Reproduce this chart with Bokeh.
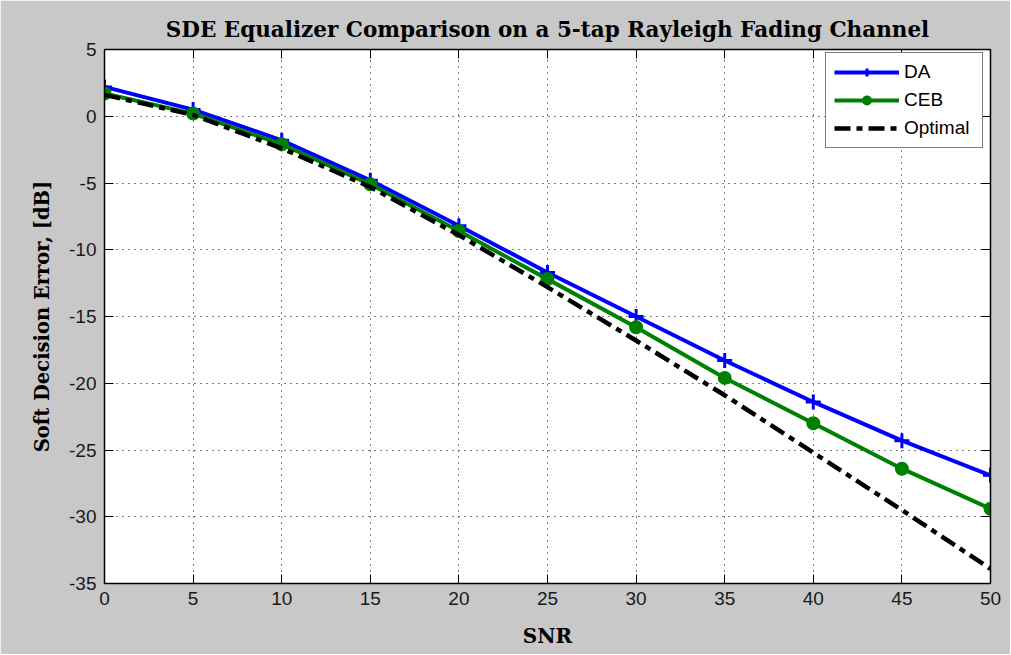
from bokeh.plotting import figure
from bokeh.models import LinearAxis, Range1d, Legend, LegendItem, FixedTicker, CustomJSTickFormatter, Title
from bokeh.embed import file_html
from bokeh.resources import INLINE

snr = [0, 5, 10, 15, 20, 25, 30, 35, 40, 45, 50]
da = [2.2, 0.5, -1.8, -4.8, -8.2, -11.7, -15.0, -18.3, -21.4, -24.3, -26.9]
ceb = [1.7, 0.2, -2.1, -5.1, -8.6, -12.2, -15.8, -19.6, -23.0, -26.4, -29.4]
optimal = [1.6, 0.1, -2.4, -5.3, -8.9, -12.8, -16.8, -20.9, -25.2, -29.5, -33.9]
x_ticks = [0, 5, 10, 15, 20, 25, 30, 35, 40, 45, 50]
y_ticks = [5, 0, -5, -10, -15, -20, -25, -30, -35]

GRAY = "#c8c8c8"
SANS = "Liberation Sans"
SERIF = "DejaVu Serif"

p = figure(width=1010, height=654, output_backend="svg", toolbar_location=None,
           x_range=Range1d(0, 50), y_range=Range1d(-35, 5),
           min_border_left=104, min_border_right=20, min_border_top=49, min_border_bottom=71)
p.background_fill_color = "white"
p.border_fill_color = GRAY
p.outline_line_color = "black"
p.outline_line_width = 1

p.title = Title(text="SDE Equalizer Comparison on a 5-tap Rayleigh Fading Channel",
                align="center", text_font=SERIF, text_font_size="21.5px",
                text_font_style="bold", text_color="black", standoff=15)

# grids
for g in (p.xgrid, p.ygrid):
    g.grid_line_color = "black"
    g.grid_line_dash = "1 5"
    g.grid_line_width = 1
p.xgrid.ticker = FixedTicker(ticks=x_ticks)
p.ygrid.ticker = FixedTicker(ticks=y_ticks)

def style_axis(ax, ticks, label_visible=True):
    ax.ticker = FixedTicker(ticks=ticks)
    ax.major_tick_in = 9
    ax.major_tick_out = 0
    ax.minor_tick_line_color = None
    ax.axis_line_color = "black"
    ax.axis_line_width = 1.5
    ax.major_tick_line_color = "black"
    ax.major_label_text_font = SANS
    ax.major_label_text_font_size = "19px"
    ax.major_label_text_color = "#1a1a1a"
    ax.major_label_standoff = 8
    if label_visible:
        ax.formatter = CustomJSTickFormatter(code="return tick.toString();")
    else:
        ax.formatter = CustomJSTickFormatter(code="return '';")
        ax.major_label_standoff = 0

style_axis(p.xaxis[0], x_ticks)
style_axis(p.yaxis[0], y_ticks)
p.xaxis[0].axis_label = "SNR"
p.yaxis[0].axis_label = "Soft Decision Error, [dB]"
for ax in (p.xaxis[0], p.yaxis[0]):
    ax.axis_label_text_font = SERIF
    ax.axis_label_text_font_style = "bold"
    ax.axis_label_text_font_size = "20px"
    ax.axis_label_text_color = "black"
p.yaxis[0].axis_label_text_font_size = "19.5px"
p.xaxis[0].axis_label_standoff = 16
p.yaxis[0].axis_label_standoff = 12

top = LinearAxis()
right = LinearAxis()
style_axis(top, x_ticks, False)
style_axis(right, y_ticks, False)
p.add_layout(top, "above")
p.add_layout(right, "right")

r_da = p.line(snr, da, line_color="#0000ff", line_width=4)
m_da = p.scatter(snr, da, marker="cross", size=15, line_color="#0000ff", line_width=3)
r_ceb = p.line(snr, ceb, line_color="#008000", line_width=4)
m_ceb = p.scatter(snr, ceb, marker="circle", size=12, fill_color="#008000", line_color="#008000", line_width=2)
r_opt = p.line(snr, optimal, line_color="black", line_width=4.5, line_dash="16 6 6 6")

legend = Legend(items=[
    LegendItem(label="DA", renderers=[r_da, m_da]),
    LegendItem(label="CEB", renderers=[r_ceb, m_ceb]),
    LegendItem(label="Optimal", renderers=[r_opt]),
], location=(721, 435))
legend.glyph_width = 65
legend.glyph_height = 20
legend.label_height = 20
legend.label_width = 70
legend.spacing = 6
legend.padding = 8
legend.margin = 0
legend.label_standoff = 5
legend.label_text_font = SANS
legend.label_text_font_size = "19px"
legend.label_text_color = "black"
legend.border_line_color = "black"
legend.border_line_width = 1
legend.background_fill_color = "white"
legend.background_fill_alpha = 1
p.add_layout(legend, "center")

open("out.html", "w").write(file_html(p, INLINE))
